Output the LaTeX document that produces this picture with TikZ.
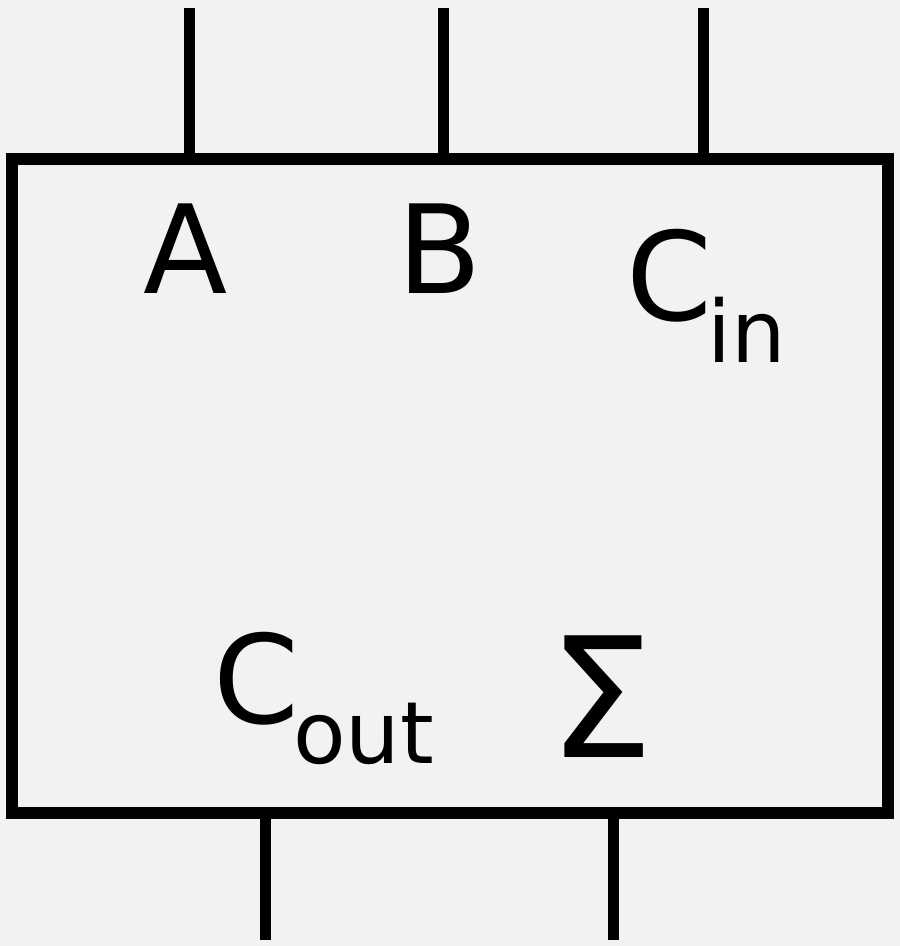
\documentclass[tikz,border=0pt]{standalone}
\usepackage{fontspec}
\setmainfont{DejaVu Sans}
\definecolor{bg}{HTML}{F2F2F2}
\begin{document}
\begin{tikzpicture}[x=1pt,y=-1pt,
  wire/.style={line width=11pt,black},
  lbl/.style={inner sep=0pt,font=\fontsize{123}{140}\selectfont},
  sub/.style={inner sep=0pt,font=\fontsize{86}{100}\selectfont}]
\fill[bg] (0,0) rectangle (900,946);
\useasboundingbox (0,0) rectangle (900,946);
\node[draw,line width=12pt,outer sep=0pt,minimum width=876pt,minimum height=654pt,inner sep=0pt,anchor=north west] (box) at (12,159) {};
\coordinate (ta) at (189,8);
\coordinate (tb) at (443,8);
\coordinate (tc) at (703,8);
\coordinate (bo) at (265,940);
\coordinate (bs) at (613,940);
\draw[wire] (ta) -- (ta |- box.north);
\draw[wire] (tb) -- (tb |- box.north);
\draw[wire] (tc) -- (tc |- box.north);
\draw[wire] (bo) -- (bo |- box.south);
\draw[wire] (bs) -- (bs |- box.south);
\node[lbl,anchor=base] (A) at (186,293) {A};
\node[lbl,anchor=base] (B) at (440,293) {B};
\node[lbl,anchor=base west] (Cin) at (626,320) {C};
\node[sub,anchor=base west] (in) at (707,362) {in};
\node[lbl,anchor=base west] (Cout) at (213,723) {C};
\node[sub,anchor=base west] (out) at (293,763) {out};
\node[inner sep=0pt,anchor=base,font=\fontsize{167}{180}\selectfont] (S) at (601,757) {Σ};
\end{tikzpicture}
\end{document}
